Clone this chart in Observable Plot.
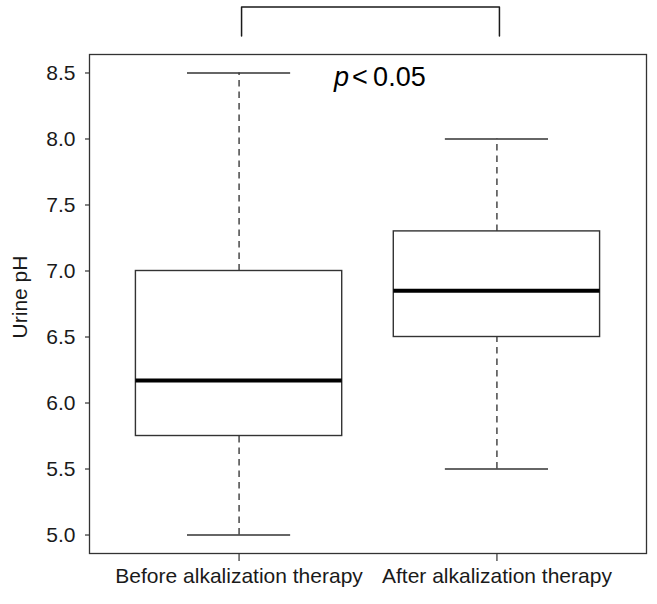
<!DOCTYPE html>
<html>
<head>
<meta charset="utf-8">
<script src="https://cdn.jsdelivr.net/npm/d3@7"></script>
<script src="https://cdn.jsdelivr.net/npm/@observablehq/plot@0.6"></script>
<style>
  html, body { margin: 0; padding: 0; background: #fff; }
  svg { display: block; }
</style>
</head>
<body>
<div id="chart"></div>
<script>
// ---- data ----
const categories = ["Before alkalization therapy", "After alkalization therapy"];
const whiskerLow  = [5.0, 5.5];
const q1          = [5.75, 6.5];
const median      = [6.17, 6.85];
const q3          = [7.0, 7.3];
const whiskerHigh = [8.5, 8.0];
const yTicks = [5.0, 5.5, 6.0, 6.5, 7.0, 7.5, 8.0, 8.5];
const yLabel = "Urine pH";
const pSymbol = "p";
const pText = "<\u20090.05";
const bracketGroups = [1, 2];
const bracketY = [8.78, 9.0];

// ---- build table ----
const boxes = categories.map((c, i) => ({
  pos: i + 1, name: c,
  lo: whiskerLow[i], q1: q1[i], med: median[i], q3: q3[i], hi: whiskerHigh[i]
}));
const halfBox = 0.4, halfCap = 0.2;
const bracket = [
  {x: bracketGroups[0], y: bracketY[0]},
  {x: bracketGroups[0], y: bracketY[1]},
  {x: bracketGroups[1], y: bracketY[1]},
  {x: bracketGroups[1], y: bracketY[0]}
];
const ink = "#1a1a1a";
const font = "'Liberation Sans', Arial, Helvetica, sans-serif";

const chart = Plot.plot({
  width: 657,
  height: 604,
  marginLeft: 89,
  marginRight: 11,
  marginTop: 54,
  marginBottom: 51,
  style: {fontFamily: font, fontSize: "21px", color: ink, background: "#fff", overflow: "visible"},
  x: {domain: [0.42, 2.58]},
  y: {domain: [4.86, 8.64]},
  marks: [
    Plot.frame({stroke: "#333", strokeWidth: 1.3}),
    // dashed whiskers
    Plot.ruleX(boxes, {x: "pos", y1: "q3", y2: "hi", stroke: ink, strokeWidth: 1.2, strokeDasharray: "6.5,5"}),
    Plot.ruleX(boxes, {x: "pos", y1: "lo", y2: "q1", stroke: ink, strokeWidth: 1.2, strokeDasharray: "6.5,5"}),
    // caps
    Plot.ruleY(boxes, {y: "hi", x1: d => d.pos - halfCap, x2: d => d.pos + halfCap, stroke: "#333", strokeWidth: 1.4}),
    Plot.ruleY(boxes, {y: "lo", x1: d => d.pos - halfCap, x2: d => d.pos + halfCap, stroke: "#333", strokeWidth: 1.4}),
    // boxes
    Plot.rect(boxes, {x1: d => d.pos - halfBox, x2: d => d.pos + halfBox, y1: "q1", y2: "q3",
      fill: "#fff", stroke: "#333", strokeWidth: 1.4}),
    // medians
    Plot.ruleY(boxes, {y: "med", x1: d => d.pos - halfBox, x2: d => d.pos + halfBox, stroke: "#000", strokeWidth: 4}),
    // axes
    Plot.axisY({ticks: yTicks, tickFormat: d3.format(".1f"), tickSize: 4, tickPadding: 10,
      fontSize: 21, label: null, stroke: "#333", strokeWidth: 1.2}),
    Plot.axisX({ticks: [1, 2], tickFormat: i => categories[i - 1], tickSize: 8, tickPadding: 7,
      fontSize: 21, label: null, stroke: "#333", strokeWidth: 1.2}),
    Plot.text([yLabel], {frameAnchor: "left", textAnchor: "middle", text: d => d, rotate: -90, dx: -69, dy: -7,
      fontSize: 21, fill: ink}),
    // significance bracket
    Plot.line(bracket, {x: "x", y: "y", dx: 2.5, stroke: ink, strokeWidth: 1.5, clip: false}),
    Plot.text([pSymbol], {x: [1.43], y: [8.47], text: d => d, textAnchor: "end", dx: -1,
      fontSize: 27, fontStyle: "italic", fill: "#000"}),
    Plot.text([pText], {x: [1.43], y: [8.47], text: d => d, textAnchor: "start", dx: 2,
      fontSize: 27, fill: "#000"})
  ]
});
document.getElementById("chart").appendChild(chart);
</script>
</body>
</html>
